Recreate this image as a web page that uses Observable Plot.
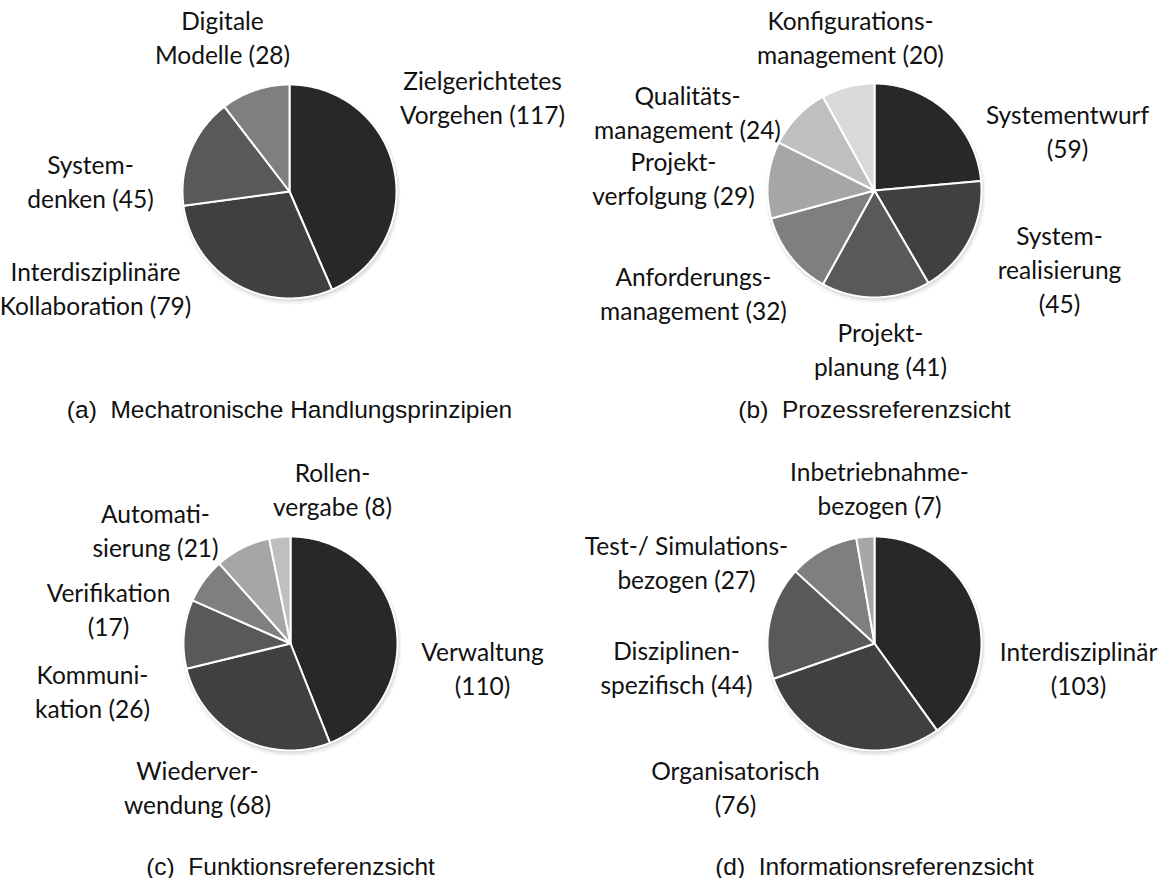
<!DOCTYPE html>
<html>
<head>
<meta charset="utf-8">
<script src="https://cdn.jsdelivr.net/npm/d3@7"></script>
<script src="https://cdn.jsdelivr.net/npm/@observablehq/plot@0.6"></script>
<style>
  html, body { margin: 0; padding: 0; background: #fff; }
</style>
</head>
<body>
<div id="chart"></div>
<script>
// ---------- DATA ----------
// (a) Mechatronische Handlungsprinzipien
const catsA = ["Zielgerichtetes Vorgehen", "Interdisziplinäre Kollaboration", "Systemdenken", "Digitale Modelle"];
const valsA = [117, 79, 45, 28];
const labelsA = ["Zielgerichtetes\nVorgehen #", "Interdisziplinäre\nKollaboration #", "System-\ndenken #", "Digitale\nModelle #"];

// (b) Prozessreferenzsicht
const catsB = ["Systementwurf", "Systemrealisierung", "Projektplanung", "Anforderungsmanagement", "Projektverfolgung", "Qualitätsmanagement", "Konfigurationsmanagement"];
const valsB = [59, 45, 41, 32, 29, 24, 20];
const labelsB = ["Systementwurf\n#", "System-\nrealisierung\n#", "Projekt-\nplanung #", "Anforderungs-\nmanagement #", "Projekt-\nverfolgung #", "Qualitäts-\nmanagement #", "Konfigurations-\nmanagement #"];

// (c) Funktionsreferenzsicht
const catsC = ["Verwaltung", "Wiederverwendung", "Kommunikation", "Verifikation", "Automatisierung", "Rollenvergabe"];
const valsC = [110, 68, 26, 17, 21, 8];
const labelsC = ["Verwaltung\n#", "Wiederver-\nwendung #", "Kommuni-\nkation #", "Verifikation\n#", "Automati-\nsierung #", "Rollen-\nvergabe #"];

// (d) Informationsreferenzsicht
const catsD = ["Interdisziplinär", "Organisatorisch", "Disziplinenspezifisch", "Test-/ Simulationsbezogen", "Inbetriebnahmebezogen"];
const valsD = [103, 76, 44, 27, 7];
const labelsD = ["Interdisziplinär\n#", "Organisatorisch\n#", "Disziplinen-\nspezifisch #", "Test-/ Simulations-\nbezogen #", "Inbetriebnahme-\nbezogen #"];

const titles = ["(a)\u00a0\u00a0Mechatronische Handlungsprinzipien", "(b)\u00a0\u00a0Prozessreferenzsicht", "(c)\u00a0\u00a0Funktionsreferenzsicht", "(d)\u00a0\u00a0Informationsreferenzsicht"];

// ---------- LAYOUT (positions & styles only) ----------
const W = 1165, H = 878;
const grays = ["#282828", "#404040", "#595959", "#7f7f7f", "#a6a6a6", "#bfbfbf", "#d9d9d9"];
const R = 107;
const pieLayout = [
  {cx: 289, cy: 191, captionY: 417,
   label: [[482, 89], [95, 280], [90, 173], [222, 29]]},
  {cx: 874, cy: 190, captionY: 417,
   label: [[1067, 123], [1059, 244], [880, 341], [693, 285], [673, 170], [687, 104], [850, 29]]},
  {cx: 290, cy: 643, captionY: 874,
   label: [[482, 660], [197, 779], [92, 683], [108, 601], [155, 522], [332, 481]]},
  {cx: 874, cy: 643, captionY: 874,
   label: [[1078, 660], [735, 779], [676, 659], [686, 554], [879, 480]]}
];
const labelFont = "Lato, 'Open Sans', sans-serif";
const labelSize = 24.5;
const lineStep = 34;

// ---------- BUILD ----------
const pies = [
  {cats: catsA, vals: valsA, labels: labelsA},
  {cats: catsB, vals: valsB, labels: labelsB},
  {cats: catsC, vals: valsC, labels: labelsC},
  {cats: catsD, vals: valsD, labels: labelsD}
];

const slicePts = [];
const labelLines = [];
const centers = [];
const captions = [];
const pieGen = d3.pie().sort(null).value(d => d.value);

pies.forEach((p, pi) => {
  const L = pieLayout[pi];
  centers.push({x: L.cx, y: L.cy});
  captions.push({x: L.cx, y: L.captionY, text: titles[pi]});
  const rows = p.cats.map((c, i) => ({cat: c, value: p.vals[i], i}));
  const arcs = pieGen(rows);
  arcs.forEach(a => {
    const key = pi + "-" + a.data.i;
    const color = grays[a.data.i];
    slicePts.push({key, color, x: L.cx, y: L.cy});
    const n = Math.max(2, Math.ceil((a.endAngle - a.startAngle) / (Math.PI / 360)));
    for (let k = 0; k <= n; k++) {
      const t = a.startAngle + (a.endAngle - a.startAngle) * k / n;
      slicePts.push({key, color, x: L.cx + R * Math.sin(t), y: L.cy - R * Math.cos(t)});
    }
    slicePts.push({key, color, x: L.cx, y: L.cy});
    // label
    const txt = p.labels[a.data.i].replace("#", "(" + a.data.value + ")");
    const [lx, ly] = L.label[a.data.i];
    txt.split("\n").forEach((line, li) => {
      labelLines.push({x: lx, y: ly + li * lineStep, text: line});
    });
  });
});

const chart = Plot.plot({
  width: W,
  height: H,
  margin: 0,
  x: {domain: [0, W], range: [0, W], axis: null},
  y: {domain: [0, H], range: [0, H], axis: null},
  color: {type: "identity"},
  style: {background: "#fff"},
  marks: [
    // soft shadow
    Plot.dot(centers, {x: "x", y: "y", r: R + 3, fill: "#000", fillOpacity: 0.04, dx: 1, dy: 3, stroke: "none"}),
    Plot.dot(centers, {x: "x", y: "y", r: R + 1.5, fill: "#000", fillOpacity: 0.07, dx: 1, dy: 2, stroke: "none"}),
    Plot.dot(centers, {x: "x", y: "y", r: R, fill: "#000", fillOpacity: 0.12, dx: 0.5, dy: 1.5, stroke: "none"}),
    Plot.line(slicePts, {
      x: "x", y: "y", z: "key", fill: "color",
      stroke: "#fff", strokeWidth: 2, strokeLinejoin: "round", curve: "linear"
    }),
    Plot.text(labelLines, {
      x: "x", y: "y", text: "text", textAnchor: "middle", lineAnchor: "bottom",
      fontFamily: labelFont, fontSize: labelSize, fill: "#111"
    }),
    Plot.text(captions, {
      x: "x", y: "y", text: "text", textAnchor: "middle", lineAnchor: "bottom",
      fontFamily: "'Liberation Sans', Arial, sans-serif", fontSize: 24.5, fill: "#111"
    })
  ]
});
document.getElementById("chart").appendChild(chart);
</script>
</body>
</html>
